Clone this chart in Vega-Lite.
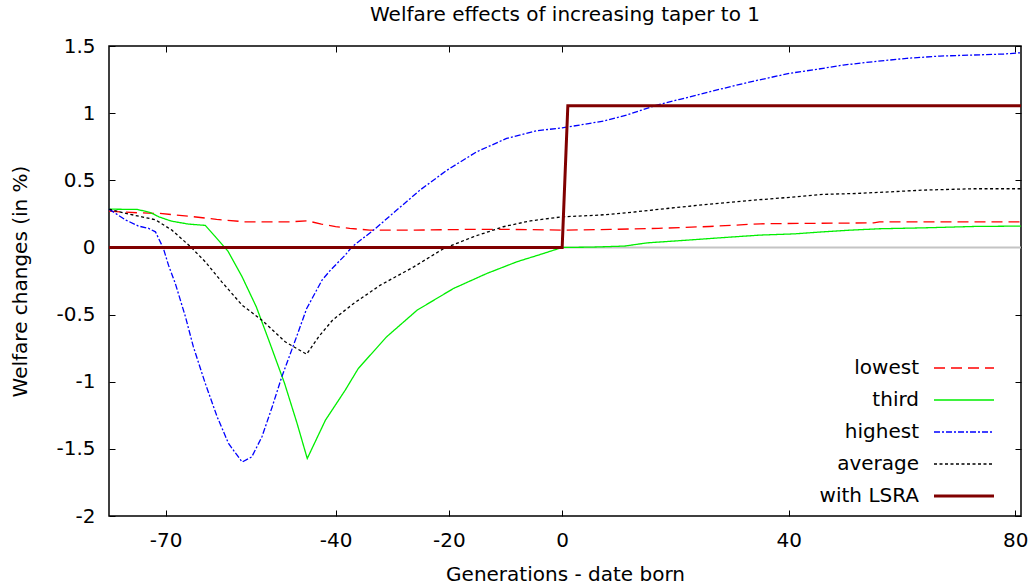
{
  "$schema": "https://vega.github.io/schema/vega-lite/v6.json",
  "width": 912,
  "height": 470,
  "autosize": {"type": "none"},
  "padding": {"left": 109, "top": 46, "right": 9, "bottom": 68},
  "title": {"text": "Welfare effects of increasing taper to 1", "font": "DejaVu Sans", "fontSize": 20, "fontWeight": "normal", "color": "#000", "baseline": "alphabetic", "offset": -5, "anchor": "middle"},
  "config": {
    "font": "DejaVu Sans",
    "view": {"stroke": "#000", "strokeWidth": 1.5},
    "axis": {"grid": false, "domain": false, "tickSize": -6, "tickColor": "#000", "tickWidth": 1, "labelFont": "DejaVu Sans", "labelFontSize": 20, "labelColor": "#000", "titleFont": "DejaVu Sans", "titleFontSize": 20, "titleFontWeight": "normal", "titleColor": "#000"}
  },
  "datasets": {
    "series": [
        {"s": "lowest", "g": -80, "v": 0.27}, {"s": "lowest", "g": -75, "v": 0.258}, {"s": "lowest", "g": -71, "v": 0.253}, {"s": "lowest", "g": -66, "v": 0.233}, {"s": "lowest", "g": -61, "v": 0.209}, {"s": "lowest", "g": -56, "v": 0.191}, {"s": "lowest", "g": -48, "v": 0.191}, {"s": "lowest", "g": -45, "v": 0.198}, {"s": "lowest", "g": -42.5, "v": 0.174}, {"s": "lowest", "g": -40, "v": 0.155}, {"s": "lowest", "g": -37.5, "v": 0.142}, {"s": "lowest", "g": -34, "v": 0.129}, {"s": "lowest", "g": -26, "v": 0.129}, {"s": "lowest", "g": -17, "v": 0.134}, {"s": "lowest", "g": -9, "v": 0.134}, {"s": "lowest", "g": 0, "v": 0.129}, {"s": "lowest", "g": 8.5, "v": 0.134}, {"s": "lowest", "g": 17, "v": 0.142}, {"s": "lowest", "g": 26, "v": 0.156}, {"s": "lowest", "g": 35, "v": 0.176}, {"s": "lowest", "g": 42, "v": 0.179}, {"s": "lowest", "g": 55, "v": 0.183}, {"s": "lowest", "g": 56, "v": 0.191}, {"s": "lowest", "g": 81, "v": 0.191},
        {"s": "third", "g": -80, "v": 0.285}, {"s": "third", "g": -75, "v": 0.283}, {"s": "third", "g": -72.7, "v": 0.26}, {"s": "third", "g": -71.2, "v": 0.228}, {"s": "third", "g": -69, "v": 0.196}, {"s": "third", "g": -66, "v": 0.174}, {"s": "third", "g": -63, "v": 0.164}, {"s": "third", "g": -61.2, "v": 0.079}, {"s": "third", "g": -59, "v": -0.028}, {"s": "third", "g": -56.5, "v": -0.219}, {"s": "third", "g": -54, "v": -0.442}, {"s": "third", "g": -51.8, "v": -0.69}, {"s": "third", "g": -49, "v": -1.013}, {"s": "third", "g": -46.8, "v": -1.31}, {"s": "third", "g": -45, "v": -1.572}, {"s": "third", "g": -41.8, "v": -1.287}, {"s": "third", "g": -38.3, "v": -1.063}, {"s": "third", "g": -36, "v": -0.902}, {"s": "third", "g": -31, "v": -0.666}, {"s": "third", "g": -25.6, "v": -0.467}, {"s": "third", "g": -19.2, "v": -0.306}, {"s": "third", "g": -13.3, "v": -0.194}, {"s": "third", "g": -8, "v": -0.107}, {"s": "third", "g": -3.3, "v": -0.045}, {"s": "third", "g": 0, "v": 0}, {"s": "third", "g": 5, "v": 0.002}, {"s": "third", "g": 11, "v": 0.01}, {"s": "third", "g": 15, "v": 0.034}, {"s": "third", "g": 22, "v": 0.054}, {"s": "third", "g": 28, "v": 0.072}, {"s": "third", "g": 35, "v": 0.092}, {"s": "third", "g": 41, "v": 0.101}, {"s": "third", "g": 46, "v": 0.116}, {"s": "third", "g": 51, "v": 0.129}, {"s": "third", "g": 56, "v": 0.139}, {"s": "third", "g": 64, "v": 0.146}, {"s": "third", "g": 72.6, "v": 0.156}, {"s": "third", "g": 81, "v": 0.159},
        {"s": "highest", "g": -80, "v": 0.285}, {"s": "highest", "g": -77, "v": 0.203}, {"s": "highest", "g": -74.8, "v": 0.159}, {"s": "highest", "g": -73, "v": 0.142}, {"s": "highest", "g": -71.8, "v": 0.116}, {"s": "highest", "g": -70.4, "v": -0.007}, {"s": "highest", "g": -69.5, "v": -0.132}, {"s": "highest", "g": -68.3, "v": -0.268}, {"s": "highest", "g": -66.5, "v": -0.517}, {"s": "highest", "g": -65.1, "v": -0.741}, {"s": "highest", "g": -63, "v": -1.013}, {"s": "highest", "g": -60.9, "v": -1.262}, {"s": "highest", "g": -58.9, "v": -1.46}, {"s": "highest", "g": -56.5, "v": -1.598}, {"s": "highest", "g": -54.8, "v": -1.56}, {"s": "highest", "g": -53, "v": -1.41}, {"s": "highest", "g": -51.2, "v": -1.188}, {"s": "highest", "g": -49.5, "v": -0.964}, {"s": "highest", "g": -47.1, "v": -0.69}, {"s": "highest", "g": -45.1, "v": -0.455}, {"s": "highest", "g": -42.4, "v": -0.244}, {"s": "highest", "g": -40.9, "v": -0.169}, {"s": "highest", "g": -38.3, "v": -0.057}, {"s": "highest", "g": -37.1, "v": 0.005}, {"s": "highest", "g": -33.3, "v": 0.129}, {"s": "highest", "g": -29.2, "v": 0.278}, {"s": "highest", "g": -25.1, "v": 0.427}, {"s": "highest", "g": -20.3, "v": 0.576}, {"s": "highest", "g": -15.1, "v": 0.712}, {"s": "highest", "g": -9.8, "v": 0.812}, {"s": "highest", "g": -4.5, "v": 0.869}, {"s": "highest", "g": 0, "v": 0.89}, {"s": "highest", "g": 2, "v": 0.904}, {"s": "highest", "g": 7.3, "v": 0.941}, {"s": "highest", "g": 11.4, "v": 0.986}, {"s": "highest", "g": 16.7, "v": 1.06}, {"s": "highest", "g": 20.8, "v": 1.103}, {"s": "highest", "g": 26.1, "v": 1.16}, {"s": "highest", "g": 32.6, "v": 1.227}, {"s": "highest", "g": 40.2, "v": 1.297}, {"s": "highest", "g": 44.9, "v": 1.326}, {"s": "highest", "g": 49.6, "v": 1.358}, {"s": "highest", "g": 54.9, "v": 1.383}, {"s": "highest", "g": 60.8, "v": 1.408}, {"s": "highest", "g": 66.7, "v": 1.425}, {"s": "highest", "g": 72.6, "v": 1.433}, {"s": "highest", "g": 77.9, "v": 1.44}, {"s": "highest", "g": 81, "v": 1.45},
        {"s": "average", "g": -80, "v": 0.285}, {"s": "average", "g": -77, "v": 0.253}, {"s": "average", "g": -74.2, "v": 0.228}, {"s": "average", "g": -71.8, "v": 0.206}, {"s": "average", "g": -68.9, "v": 0.129}, {"s": "average", "g": -65.6, "v": 0.005}, {"s": "average", "g": -63, "v": -0.107}, {"s": "average", "g": -60.1, "v": -0.256}, {"s": "average", "g": -56.5, "v": -0.43}, {"s": "average", "g": -53, "v": -0.542}, {"s": "average", "g": -48.9, "v": -0.703}, {"s": "average", "g": -45.1, "v": -0.795}, {"s": "average", "g": -43, "v": -0.666}, {"s": "average", "g": -40.5, "v": -0.54}, {"s": "average", "g": -36.8, "v": -0.417}, {"s": "average", "g": -32.1, "v": -0.281}, {"s": "average", "g": -26.2, "v": -0.145}, {"s": "average", "g": -20.9, "v": -0.008}, {"s": "average", "g": -15.7, "v": 0.079}, {"s": "average", "g": -10.4, "v": 0.154}, {"s": "average", "g": -5.6, "v": 0.198}, {"s": "average", "g": 0, "v": 0.228}, {"s": "average", "g": 6.7, "v": 0.241}, {"s": "average", "g": 11.4, "v": 0.258}, {"s": "average", "g": 18.5, "v": 0.29}, {"s": "average", "g": 26.1, "v": 0.323}, {"s": "average", "g": 33.8, "v": 0.352}, {"s": "average", "g": 40.2, "v": 0.373}, {"s": "average", "g": 46.1, "v": 0.395}, {"s": "average", "g": 52, "v": 0.402}, {"s": "average", "g": 57.9, "v": 0.414}, {"s": "average", "g": 63.8, "v": 0.427}, {"s": "average", "g": 72.6, "v": 0.437}, {"s": "average", "g": 81, "v": 0.437},
        {"s": "with LSRA", "g": -80, "v": 0}, {"s": "with LSRA", "g": 0, "v": 0}, {"s": "with LSRA", "g": 1, "v": 1.055}, {"s": "with LSRA", "g": 81, "v": 1.055}
    ]
  },
  "layer": [
    {
      "data": {"values": [{}]},
      "mark": {"type": "rule", "color": "#c4c4c4", "strokeWidth": 2},
      "encoding": {
        "x": {"datum": -80, "type": "quantitative", "scale": {"domain": [-80, 81], "nice": false, "zero": false}, "axis": {"orient": "top", "values": [-70, -40, -20, 0, 40, 80], "labels": false, "title": null}},
        "x2": {"datum": 81},
        "y": {"datum": 0, "type": "quantitative", "scale": {"domain": [-2, 1.5], "nice": false, "zero": false}, "axis": {"orient": "right", "values": [-2, -1.5, -1, -0.5, 0, 0.5, 1, 1.5], "labels": false, "title": null}}
      }
    },
    {
      "data": {"name": "series"},
      "transform": [{"filter": "datum.s !== 'with LSRA'"}],
      "mark": {"type": "line", "strokeWidth": 1.3},
      "encoding": {
        "x": {"field": "g", "type": "quantitative", "scale": {"domain": [-80, 81], "nice": false, "zero": false}, "axis": {"orient": "bottom", "values": [-70, -40, -20, 0, 40, 80], "labelBaseline": "alphabetic", "labelPadding": 36.5, "labelExpr": "'' + datum.value", "title": "Generations - date born", "titleBaseline": "alphabetic", "titleY": 64}},
        "y": {"field": "v", "type": "quantitative", "scale": {"domain": [-2, 1.5], "nice": false, "zero": false}, "axis": {"orient": "left", "values": [-2, -1.5, -1, -0.5, 0, 0.5, 1, 1.5], "labelPadding": 20, "labelExpr": "'' + datum.value", "title": "Welfare changes (in %)", "titleAngle": -90, "titleBaseline": "alphabetic", "titleAlign": "center", "titleX": -83, "titleY": 235}},
        "color": {"field": "s", "type": "nominal", "scale": {"domain": ["lowest", "third", "highest", "average", "with LSRA"], "range": ["#ff0000", "#00ee00", "#0000ff", "#000000", "#800000"]},
          "legend": {"title": null, "orient": "none", "legendX": 845, "legendY": 312, "padding": 0, "direction": "vertical", "labelAlign": "right", "labelOffset": -55, "rowPadding": 12, "symbolType": "M-3,0H3", "symbolSize": 400, "symbolStrokeWidth": 1.3, "labelFont": "DejaVu Sans", "labelFontSize": 20, "labelColor": "#000",
            "encode": {"symbols": {"update": {"strokeWidth": {"signal": "datum.value === 'with LSRA' ? 3 : 1.3"}}}}}},
        "strokeDash": {"field": "s", "type": "nominal", "scale": {"domain": ["lowest", "third", "highest", "average", "with LSRA"], "range": [[11, 6], [1, 0], [6, 2, 2, 2], [3, 2.5], [1, 0]]}, "legend": {"title": null}}
      }
    },
    {
      "data": {"name": "series"},
      "transform": [{"filter": "datum.s === 'with LSRA'"}],
      "mark": {"type": "line", "strokeWidth": 3},
      "encoding": {
        "x": {"field": "g", "type": "quantitative", "axis": null},
        "y": {"field": "v", "type": "quantitative", "axis": null},
        "color": {"field": "s", "type": "nominal"},
        "strokeDash": {"field": "s", "type": "nominal"}
      }
    }
  ],
  "resolve": {"axis": {"x": "independent", "y": "independent"}}
}
